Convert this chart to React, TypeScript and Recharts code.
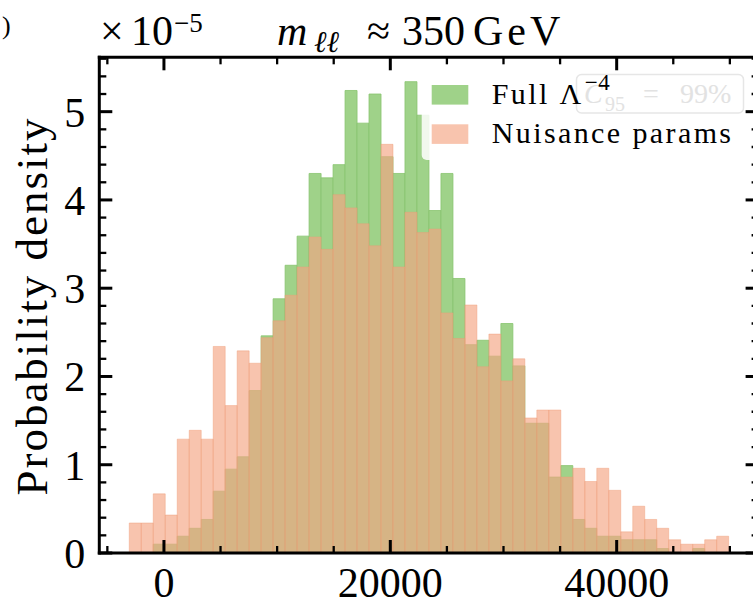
import React from 'react';
import { ComposedChart, Bar, XAxis, YAxis, Legend } from 'recharts';

// ---- data (density values in units of 1e-5) ----
const binCenters = [
  -2533, -1474, -415, 644, 1703, 2762, 3821, 4881, 5940, 6999,
  8058, 9117, 10176, 11235, 12294, 13354, 14413, 15472, 16531, 17590,
  18649, 19708, 20767, 21826, 22885, 23945, 25004, 26063, 27122, 28181,
  29240, 30299, 31358, 32417, 33476, 34536, 35595, 36654, 37713, 38772,
  39831, 40890, 41949, 43008, 44067, 45127, 46186, 47245, 48304, 49363,
];

const fullLambda = [
  0, 0, 0.10, 0.10, 0.19, 0.28, 0.38, 0.70, 0.95, 1.09,
  1.84, 2.46, 2.88, 3.26, 3.59, 4.30, 4.25, 4.40, 5.24, 4.87,
  5.20, 4.49, 4.30, 5.34, 4.96, 3.88, 4.30, 3.11, 2.36, 2.41,
  2.23, 2.60, 2.12, 1.47, 1.47, 0.86, 0.99, 0.38, 0.28, 0.19,
  0.19, 0.15, 0.15, 0.15, 0.05, 0, 0, 0.05, 0, 0,
];

const nuisance = [
  0.34, 0.34, 0.67, 0.43, 1.29, 1.39, 1.29, 2.34, 1.67, 2.29,
  2.15, 2.44, 2.63, 2.92, 3.24, 3.58, 3.44, 4.06, 3.91, 3.73,
  3.48, 4.63, 3.24, 3.86, 3.63, 3.67, 2.72, 2.43, 2.81, 2.11,
  2.48, 1.95, 2.20, 1.53, 1.62, 1.62, 0.86, 0.96, 0.81, 0.96,
  0.71, 0.24, 0.53, 0.38, 0.28, 0.15, 0.10, 0.10, 0.15, 0.19,
];

const seriesNames = ['Full Λ^{−4}', 'Nuisance params'];

const xMajorTicks = [0, 20000, 40000];
const xMinorTicks = [-5000, 5000, 10000, 15000, 25000, 30000, 35000, 45000, 50000];
const yMajorTicks = [0, 1, 2, 3, 4, 5];
const yMinorTicks = [
  0.2, 0.4, 0.6, 0.8, 1.2, 1.4, 1.6, 1.8, 2.2, 2.4, 2.6, 2.8,
  3.2, 3.4, 3.6, 3.8, 4.2, 4.4, 4.6, 4.8, 5.2, 5.4, 5.6,
];

const xDomain: [number, number] = [-5711, 52539];
const yDomain: [number, number] = [0, 5.616];

// ---- styles ----
const FONT = '"Liberation Serif", "Times New Roman", serif';
const fontStyle = { fontFamily: FONT };
const spine = { stroke: '#000', strokeWidth: 3, strokeLinecap: 'square' as const };
const majorLine = { stroke: '#000', strokeWidth: 3 };
const minorLine = { stroke: '#000', strokeWidth: 2.3 };
const tickText = { fill: '#000', fontSize: 42, fontFamily: FONT, style: fontStyle };
const GREEN = '#9fd289';
const SALMON = '#f4a582';
const THIN = 0.01;

const noTick = () => <g />;

function renderName(name: string, key: string) {
  const m = name.match(/^(.*)\^\{(.*)\}$/);
  if (!m) return <tspan key={key}>{name}</tspan>;
  return (
    <React.Fragment key={key}>
      <tspan>{m[1]}</tspan>
      <tspan dx={1} dy={-14} fontSize={23} letterSpacing={0.5}>{m[2]}</tspan>
    </React.Fragment>
  );
}

function LegendContent(props: any) {
  const payload: any[] = props.payload || [];
  return (
    <svg width={770} height={600} style={{ position: 'absolute', left: 0, top: 0, overflow: 'visible' }}>
      <rect x={421.7} y={72} width={321} height={88} rx={5} fill="#fff" fillOpacity={0.85} />
      {payload.map((entry, i) => (
        <rect
          key={'p' + i}
          x={431.7}
          y={85 + i * 39.3}
          width={36.6}
          height={19.6}
          fill={entry.color}
          fillOpacity={entry.payload && entry.payload.fillOpacity != null ? entry.payload.fillOpacity : 1}
        />
      ))}
      <rect x={576.5} y={74.5} width={167} height={38.5} rx={5} fill="#fff" fillOpacity={0.8} stroke="#e6e6e6" strokeWidth={1.5} />
      <text y={103} fontSize={28} fill="#e2e2e2" style={fontStyle}>
        <tspan x={584} fontStyle="italic">C</tspan>
        <tspan x={605} dy={8} fontSize={20}>95</tspan>
        <tspan x={643} dy={-8}>=</tspan>
        <tspan x={680}>99%</tspan>
      </text>
      {payload.map((entry, i) => (
        <text
          key={'t' + i}
          x={491.7}
          y={104.3 + i * 39}
          fontSize={30}
          letterSpacing={2.4}
          style={fontStyle}
          fill="#000"
        >
          {renderName(String(entry.value), 'n' + i)}
        </text>
      ))}
    </svg>
  );
}

export default function App() {
  const data = binCenters.map((x, i) => ({ x, full: fullLambda[i], nuis: nuisance[i] }));
  return (
    <div style={{ position: 'absolute', left: 0, top: 0, width: 753, height: 600, overflow: 'hidden', background: '#fff', fontFamily: FONT }}>
      <ComposedChart
        width={770}
        height={600}
        data={data}
        margin={{ top: 57.3, right: 11.4, bottom: 7, left: 9.3 }}
        barCategoryGap={0}
        barGap={0}
        style={fontStyle}
      >
        <XAxis xAxisId="g" dataKey="x" type="number" domain={xDomain} allowDataOverflow hide />
        <XAxis xAxisId="s" dataKey="x" type="number" domain={xDomain} allowDataOverflow hide />
        <YAxis
          yAxisId="y"
          type="number"
          domain={yDomain}
          allowDataOverflow
          width={90}
          ticks={yMajorTicks}
          interval={0}
          tickSize={0}
          tickMargin={14}
          tickLine={false}
          axisLine={false}
          tick={tickText}
        />

        <Bar
          xAxisId="g"
          yAxisId="y"
          dataKey="full"
          name={seriesNames[0]}
          fill={GREEN}
          stroke="#88c46e"
          strokeWidth={0.8}
          isAnimationActive={false}
        />
        <Bar
          xAxisId="s"
          yAxisId="y"
          dataKey="nuis"
          name={seriesNames[1]}
          fill={SALMON}
          fillOpacity={0.65}
          stroke="#ef9c78"
          strokeOpacity={0.55}
          strokeWidth={0.8}
          isAnimationActive={false}
        />

        <XAxis xAxisId="bMaj" dataKey="x" type="number" domain={xDomain} allowDataOverflow orientation="bottom" mirror height={THIN}
          ticks={xMajorTicks} interval={0} tick={noTick} tickSize={13} tickLine={majorLine} axisLine={spine} />
        <XAxis xAxisId="bMin" dataKey="x" type="number" domain={xDomain} allowDataOverflow orientation="bottom" mirror height={THIN}
          ticks={xMinorTicks} interval={0} tick={noTick} tickSize={7} tickLine={minorLine} axisLine={false} />
        <XAxis xAxisId="tMaj" dataKey="x" type="number" domain={xDomain} allowDataOverflow orientation="top" mirror height={THIN}
          ticks={xMajorTicks} interval={0} tick={noTick} tickSize={13} tickLine={majorLine} axisLine={spine} />
        <XAxis xAxisId="tMin" dataKey="x" type="number" domain={xDomain} allowDataOverflow orientation="top" mirror height={THIN}
          ticks={xMinorTicks} interval={0} tick={noTick} tickSize={7} tickLine={minorLine} axisLine={false} />
        <XAxis xAxisId="bLab" dataKey="x" type="number" domain={xDomain} allowDataOverflow orientation="bottom" height={40}
          ticks={xMajorTicks} interval={0} tickSize={0} tickMargin={14} tickLine={false} axisLine={false} tick={tickText} />

        <YAxis yAxisId="lMaj" type="number" domain={yDomain} allowDataOverflow orientation="left" mirror width={THIN}
          ticks={yMajorTicks} interval={0} tick={noTick} tickSize={13} tickLine={majorLine} axisLine={spine} />
        <YAxis yAxisId="lMin" type="number" domain={yDomain} allowDataOverflow orientation="left" mirror width={THIN}
          ticks={yMinorTicks} interval={0} tick={noTick} tickSize={7} tickLine={minorLine} axisLine={false} />
        <YAxis yAxisId="rMaj" type="number" domain={yDomain} allowDataOverflow orientation="right" mirror width={THIN}
          ticks={yMajorTicks} interval={0} tick={noTick} tickSize={13} tickLine={majorLine} axisLine={spine} />
        <YAxis yAxisId="rMin" type="number" domain={yDomain} allowDataOverflow orientation="right" mirror width={THIN}
          ticks={yMinorTicks} interval={0} tick={noTick} tickSize={7} tickLine={minorLine} axisLine={false} />

        <Legend
          layout="vertical"
          verticalAlign="middle"
          align="center"
          content={LegendContent}
          wrapperStyle={{ left: 0, top: 0, width: 770, height: 600, pointerEvents: 'none' }}
        />
      </ComposedChart>

      <svg width={753} height={600} style={{ position: 'absolute', left: 0, top: 0, pointerEvents: 'none', fontFamily: FONT }}>
        <text x={2} y={34} fontSize={26} fill="#000" style={fontStyle}>)</text>
        <text y={45} fontSize={42} fill="#000" style={fontStyle}>
          <tspan x={100}>×</tspan>
          <tspan x={131}>10</tspan>
          <tspan x={174} dy={-13} fontSize={27}>−5</tspan>
        </text>
        <text y={45} fontSize={42} fill="#000" style={fontStyle}>
          <tspan x={277} fontStyle="italic">m</tspan>
          <tspan x={314} dy={7} fontSize={30} fontStyle="italic">ℓℓ</tspan>
          <tspan x={367} dy={-7}>≈</tspan>
          <tspan x={402}>350</tspan>
          <tspan x={473} letterSpacing={4}>GeV</tspan>
        </text>
        <text
          x={46.7}
          y={306}
          transform="rotate(-90 46.7 306)"
          textAnchor="middle"
          fontSize={45}
          letterSpacing={2}
          fill="#000"
          style={fontStyle}
        >
          Probability density
        </text>
      </svg>
    </div>
  );
}
